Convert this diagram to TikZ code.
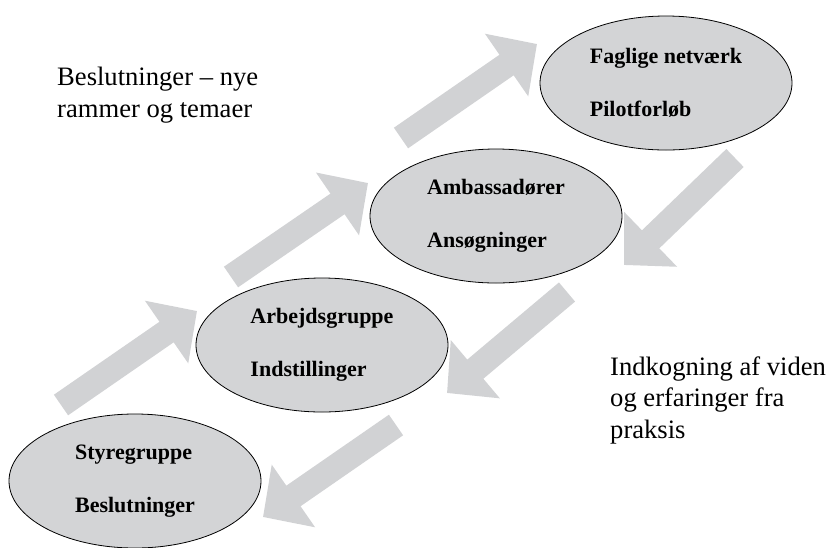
\documentclass[tikz,border=0pt]{standalone}
\usepackage{fontspec}
\setmainfont{Liberation Serif}
\usetikzlibrary{arrows.meta,shapes.geometric}
\definecolor{blockgray}{RGB}{209,210,212}
\definecolor{ellgray}{RGB}{211,212,214}
\tikzset{
  x=1pt, y=-1pt,
  stage/.style={ellipse, draw=black, line width=0.8pt, fill=ellgray,
    minimum width=252pt, minimum height=134pt, inner sep=0pt,
    align=left, font=\fontsize{22}{25}\selectfont\bfseries},
  bigarrow/.style={draw=blockgray, line width=25pt,
    -{Triangle[width=74pt,length=37pt]}},
  sidetext/.style={align=left, inner sep=0pt, anchor=base west,
    font=\fontsize{26.6}{31.5}\selectfont}
}
\begin{document}
\begin{tikzpicture}
\useasboundingbox (0,0) rectangle (829,547);
% arrow end points
\coordinate (a1s) at (61,405);  \coordinate (a1e) at (197,311);
\coordinate (a2s) at (231,277); \coordinate (a2e) at (368,183);
\coordinate (a3s) at (401,138); \coordinate (a3e) at (537,44);
\coordinate (b1s) at (735,158); \coordinate (b1e) at (624,265);
\coordinate (b2s) at (567,292); \coordinate (b2e) at (447,393);
\coordinate (b3s) at (396,425); \coordinate (b3e) at (263,517);
\draw[bigarrow] (a1s) -- (a1e);
\draw[bigarrow] (a2s) -- (a2e);
\draw[bigarrow] (a3s) -- (a3e);
\draw[bigarrow] (b1s) -- (b1e);
\draw[bigarrow] (b2s) -- (b2e);
\draw[bigarrow] (b3s) -- (b3e);
% stages
\node[stage] (e1) at (135,481) {Styregruppe\\[28pt]Beslutninger};
\node[stage] (e2) at (322,345) {Arbejdsgruppe\\[28pt]Indstillinger};
\node[stage] (e3) at (496,216) {Ambassadører\\[28pt]Ansøgninger};
\node[stage] (e4) at (666,83) {Faglige netværk\\[28pt]Pilotforløb};
% side texts (anchor = baseline of last line)
\node[sidetext] (lt) at (57,117) {Beslutninger – nye\\rammer og temaer};
\node[sidetext] (rt) at (610,438) {Indkogning af viden\\og erfaringer fra\\praksis};
\end{tikzpicture}
\end{document}
